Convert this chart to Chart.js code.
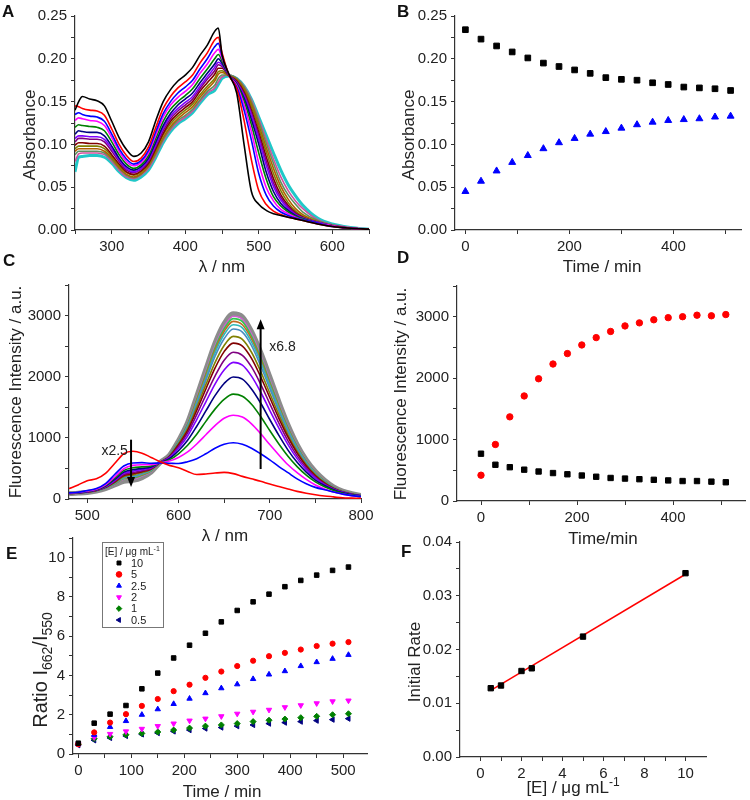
<!DOCTYPE html>
<html>
<head>
<meta charset="utf-8">
<script src="https://cdn.jsdelivr.net/npm/chart.js@4.4.0/dist/chart.umd.min.js"></script>
<style>
body{margin:0;background:#fff;width:750px;height:800px;position:relative;overflow:hidden;font-family:'Liberation Sans',Arial,sans-serif}
canvas{position:absolute}
.tag{position:absolute;font-weight:bold;font-size:17px;line-height:17px;color:#111;z-index:5}
</style>
</head>
<body>
<canvas id="cA" width="375" height="280" style="left:0;top:0"></canvas>
<canvas id="cB" width="375" height="280" style="left:375px;top:0"></canvas>
<canvas id="cC" width="380" height="285" style="left:0;top:262px"></canvas>
<canvas id="cD" width="375" height="285" style="left:375px;top:262px"></canvas>
<canvas id="cE" width="375" height="280" style="left:0;top:520px"></canvas>
<canvas id="cF" width="375" height="280" style="left:375px;top:520px"></canvas>
<div class="tag" style="left:2px;top:3px">A</div>
<div class="tag" style="left:397px;top:3px">B</div>
<div class="tag" style="left:3px;top:252px">C</div>
<div class="tag" style="left:397px;top:249px">D</div>
<div class="tag" style="left:6px;top:545px">E</div>
<div class="tag" style="left:401px;top:543px">F</div>
<script>
// ---------- A : absorption spectra (one curve per time point) ----------
const absWl = [250,255,260,270,280,290,300,310,320,330,340,350,360,370,380,390,400,410,420,430,440,445,450,460,470,480,490,500,510,520,530,540,550,560,580,600,625,650];
const absT0   = [0.140,0.150,0.156,0.153,0.151,0.145,0.127,0.108,0.094,0.086,0.090,0.103,0.128,0.150,0.164,0.174,0.181,0.190,0.204,0.216,0.232,0.236,0.205,0.181, 0.160,0.100,0.045,0.030,0.023,0.019,0.017,0.015,0.013,0.011,0.007,0.004,0.002,0.001];
const absT30  = [0.145,0.144,0.142,0.140,0.139,0.134,0.118,0.100,0.087,0.080,0.084,0.097,0.120,0.142,0.156,0.166,0.173,0.181,0.195,0.207,0.222,0.225,0.207,0.180, 0.165,0.128,0.082,0.046,0.030,0.022,0.018,0.015,0.013,0.011,0.007,0.004,0.002,0.001];
const absT60  = [0.135,0.137,0.135,0.133,0.132,0.127,0.112,0.095,0.083,0.077,0.081,0.093,0.115,0.136,0.150,0.160,0.167,0.175,0.188,0.200,0.214,0.218,0.204,0.180, 0.167,0.140,0.105,0.066,0.041,0.028,0.021,0.017,0.014,0.012,0.008,0.004,0.002,0.001];
const absT90  = [0.128,0.131,0.130,0.128,0.127,0.122,0.108,0.092,0.080,0.075,0.079,0.090,0.111,0.132,0.146,0.155,0.162,0.170,0.183,0.194,0.207,0.211,0.201,0.180, 0.169,0.146,0.115,0.078,0.050,0.034,0.024,0.019,0.015,0.012,0.008,0.005,0.002,0.001];
const absT120 = [0.120,0.123,0.122,0.121,0.120,0.116,0.103,0.088,0.077,0.072,0.076,0.087,0.107,0.127,0.141,0.150,0.157,0.165,0.177,0.188,0.200,0.205,0.198,0.180, 0.170,0.151,0.123,0.090,0.060,0.039,0.028,0.021,0.016,0.013,0.008,0.005,0.002,0.001];
const absT150 = [0.112,0.116,0.115,0.114,0.114,0.110,0.098,0.084,0.074,0.070,0.074,0.084,0.103,0.122,0.136,0.146,0.153,0.160,0.172,0.183,0.194,0.200,0.195,0.180, 0.171,0.154,0.129,0.100,0.068,0.045,0.031,0.023,0.017,0.013,0.008,0.005,0.002,0.001];
const absT180 = [0.107,0.110,0.110,0.109,0.109,0.106,0.095,0.082,0.072,0.068,0.072,0.082,0.100,0.119,0.133,0.142,0.149,0.156,0.168,0.179,0.190,0.196,0.193,0.180, 0.172,0.157,0.134,0.106,0.076,0.051,0.035,0.025,0.018,0.014,0.009,0.005,0.002,0.001];
const absT210 = [0.103,0.107,0.107,0.106,0.106,0.103,0.092,0.080,0.070,0.067,0.071,0.080,0.098,0.116,0.130,0.139,0.146,0.153,0.165,0.176,0.186,0.193,0.191,0.180, 0.173,0.159,0.137,0.110,0.081,0.055,0.038,0.027,0.019,0.014,0.009,0.005,0.002,0.001];
const absT240 = [0.099,0.102,0.102,0.101,0.101,0.098,0.088,0.077,0.068,0.065,0.069,0.078,0.095,0.113,0.127,0.136,0.143,0.150,0.162,0.172,0.182,0.189,0.189,0.180, 0.174,0.161,0.140,0.114,0.086,0.060,0.041,0.029,0.020,0.015,0.009,0.005,0.002,0.001];
const absT270 = [0.095,0.098,0.098,0.098,0.098,0.095,0.086,0.075,0.067,0.064,0.068,0.077,0.093,0.111,0.124,0.133,0.140,0.147,0.158,0.168,0.177,0.185,0.186,0.180, 0.175,0.163,0.144,0.119,0.092,0.066,0.046,0.032,0.022,0.016,0.009,0.005,0.002,0.001];
const absT330 = [0.092,0.095,0.095,0.095,0.095,0.092,0.084,0.073,0.065,0.062,0.066,0.075,0.091,0.108,0.121,0.130,0.137,0.144,0.155,0.165,0.174,0.182,0.184,0.180, 0.176,0.165,0.147,0.123,0.097,0.072,0.051,0.036,0.025,0.018,0.010,0.005,0.002,0.001];
const absT390 = [0.088,0.092,0.092,0.092,0.092,0.090,0.082,0.072,0.064,0.061,0.065,0.074,0.089,0.106,0.119,0.128,0.134,0.141,0.152,0.162,0.169,0.177,0.181,0.181, 0.177,0.167,0.150,0.127,0.102,0.078,0.056,0.041,0.030,0.021,0.011,0.006,0.002,0.001];
const absT450 = [0.080,0.089,0.090,0.090,0.090,0.088,0.080,0.070,0.062,0.060,0.064,0.072,0.087,0.104,0.117,0.126,0.132,0.139,0.150,0.160,0.166,0.173,0.179,0.181, 0.177,0.168,0.152,0.130,0.106,0.083,0.062,0.046,0.034,0.025,0.012,0.006,0.003,0.001];
const absT510 = [0.068,0.085,0.086,0.087,0.087,0.085,0.078,0.068,0.061,0.058,0.062,0.070,0.085,0.102,0.115,0.124,0.130,0.137,0.148,0.158,0.163,0.170,0.177,0.180, 0.177,0.168,0.153,0.132,0.111,0.090,0.070,0.053,0.040,0.029,0.014,0.007,0.003,0.001];
const absCurves = [absT0,absT30,absT60,absT90,absT120,absT150,absT180,absT210,absT240,absT270,absT330,absT390,absT450,absT510];
const absColors = ['#000000','#FF0000','#0000FF','#FF00FF','#008000','#000080','#8000FF','#800080','#800000','#808000','#B05F00','#5F8F5F','#D0509F','#20C8C8'];

// ---------- B : absorbance vs time ----------
const timeMin = [0,30,60,90,120,150,180,210,240,270,300,330,360,390,420,450,480,510];
const abs440 = [0.234,0.223,0.215,0.208,0.201,0.195,0.191,0.187,0.183,0.178,0.176,0.175,0.172,0.170,0.167,0.166,0.165,0.163];
const abs500 = [0.045,0.057,0.069,0.079,0.087,0.095,0.102,0.107,0.112,0.115,0.119,0.123,0.126,0.128,0.129,0.130,0.132,0.133];

// ---------- C : fluorescence spectra ----------
const flWl = [480,490,500,510,520,530,540,550,560,570,580,590,600,610,620,630,640,650,660,670,680,690,700,710,720,730,740,750,760,770,780,790,800];
const flT0   = [170,230,300,330,420,580,740,780,750,680,610, 550,510,450,400,410,425,435,415,370,330,290,245,205,165,125,95,70,50,35,20,15,10];
const flT30  = [100,110,140,170,250,400,540,590,595,585,590, 585,580,610,660,740,830,895,920,895,830,740,640,530,430,330,250,190,150,115,80,55,38];
const flT60  = [97,107,130,160,230,360,495,550,560,560,592, 620,680,770,900,1050,1200,1320,1370,1340,1230,1070,890,720,560,430,320,230,165,115,80,55,40];
const flT90  = [95,105,126,155,220,340,465,510,525,540,595, 640,740,880,1060,1270,1470,1630,1715,1680,1550,1350,1120,900,700,530,390,280,200,140,95,65,45];
const flT120 = [93,103,122,150,210,320,440,480,500,525,598, 660,790,960,1190,1440,1690,1890,1995,1960,1800,1570,1300,1040,800,600,440,310,220,150,100,70,50];
const flT150 = [92,101,119,147,202,303,420,455,480,510,600, 675,830,1030,1300,1590,1880,2110,2235,2190,2010,1750,1450,1160,890,660,480,340,235,160,110,75,52];
const flT180 = [91,100,117,144,196,290,402,435,462,500,600, 685,860,1080,1380,1700,2010,2270,2400,2350,2160,1880,1560,1240,950,705,510,360,245,165,112,77,53];
const flT210 = [90,99,115,141,190,278,385,415,448,492,600, 695,885,1120,1450,1800,2140,2410,2550,2500,2300,2000,1660,1320,1010,750,540,380,260,172,115,78,53];
const flT240 = [90,99,114,139,186,268,368,395,432,485,600, 700,905,1150,1500,1870,2230,2510,2660,2610,2400,2090,1730,1380,1050,780,560,395,270,178,118,80,54];
const flT270 = [89,98,113,138,183,260,355,375,418,478,600, 705,920,1180,1550,1940,2330,2620,2780,2730,2510,2180,1810,1440,1100,815,585,410,280,184,121,82,55];
const flT300 = [89,98,112,137,180,254,345,360,408,470,600, 708,930,1200,1580,1980,2390,2690,2850,2800,2570,2240,1860,1480,1130,835,600,420,287,188,124,83,55];
const flT330 = [89,97,111,136,178,248,338,350,398,463,600, 710,938,1215,1610,2020,2430,2740,2905,2850,2620,2280,1890,1510,1150,850,610,428,292,191,126,84,56];
const flT360 = [88,97,110,135,176,243,330,340,388,456,600, 712,945,1230,1630,2050,2470,2780,2950,2900,2660,2320,1920,1530,1170,865,620,434,296,194,127,85,56];
const flT390 = [88,96,109,134,174,238,322,325,375,448,600, 714,950,1240,1650,2080,2500,2820,2990,2940,2700,2350,1950,1550,1185,875,627,440,300,196,128,86,57];
const flT510 = [88,96,108,132,170,230,290,305,350,440,600, 715,955,1250,1680,2120,2550,2870,3030,2980,2740,2400,2000,1590,1210,890,640,450,310,200,130,88,58];
const flCurves = [flT0,flT30,flT60,flT90,flT120,flT150,flT180,flT210,flT240,flT270,flT300,flT330,flT360,flT390,flT510];
const flColors = ['#FF0000','#0000FF','#FF00FF','#008000','#000080','#8000FF','#800080','#800000','#808000','#4A8CC0','#30B8B8','#C06A20','#30C850','#D060D0','#8C8C8C'];

// ---------- D : fluorescence vs time ----------
const fl662 = [420,920,1370,1710,1990,2230,2400,2540,2660,2760,2850,2900,2950,2985,3000,3025,3015,3035];
const fl550 = [770,590,550,510,480,455,435,415,395,375,365,355,345,335,325,325,315,305];

// ---------- E : ratio vs time for each enzyme conc. ----------
const enzLabels = ['10','5','2.5','2','1','0.5'];
const ratio10  = [0.55,1.57,2.03,2.47,3.32,4.12,4.89,5.54,6.15,6.73,7.31,7.75,8.14,8.52,8.84,9.11,9.35,9.52];
const ratio5   = [0.50,1.10,1.60,2.03,2.45,2.80,3.20,3.53,3.88,4.20,4.48,4.75,4.98,5.15,5.32,5.50,5.62,5.70];
const ratio2_5 = [0.50,0.98,1.38,1.68,2.00,2.28,2.55,2.82,3.10,3.35,3.55,3.82,4.05,4.22,4.48,4.68,4.85,5.05];
const ratio2   = [0.50,0.85,1.02,1.15,1.28,1.42,1.55,1.70,1.80,1.92,2.05,2.15,2.25,2.38,2.48,2.58,2.68,2.72];
const ratio1   = [0.50,0.78,0.88,0.98,1.05,1.12,1.22,1.32,1.42,1.48,1.55,1.65,1.72,1.78,1.85,1.92,2.00,2.05];
const ratio0_5 = [0.45,0.70,0.82,0.92,1.00,1.07,1.15,1.22,1.30,1.35,1.42,1.48,1.55,1.60,1.65,1.70,1.75,1.80];

// ---------- F : initial rate vs [E] ----------
const enzConc = [0.5,1,2,2.5,5,10];
const initRate = [0.0128,0.0133,0.0160,0.0165,0.0224,0.0342];
const fitX = [0.5,10];
const fitY = [0.0124,0.0340];

// ---------- tick lists ----------
const tA_x = [250,300,350,400,450,500,550,600,650], tA_xMaj = [300,400,500,600];
const tAbs_y = [0,0.025,0.05,0.075,0.1,0.125,0.15,0.175,0.2,0.225,0.25], tAbs_yMaj = [0,0.05,0.1,0.15,0.2,0.25];
const tTime_x = [0,100,200,300,400,500], tTime_xMaj = [0,200,400];
const tC_x = [500,550,600,650,700,750,800], tC_xMaj = [500,600,700,800];
const tFl_y = [0,500,1000,1500,2000,2500,3000,3500], tFl_yMaj = [0,1000,2000,3000];
const tE_x = [0,50,100,150,200,250,300,350,400,450,500], tE_xMaj = [0,100,200,300,400,500];
const tE_y = [0,1,2,3,4,5,6,7,8,9,10,11], tE_yMaj = [0,2,4,6,8,10];
const tF_x = [0,1,2,3,4,5,6,7,8,9,10], tF_xMaj = [0,2,4,6,8,10];
const tF_y = [0,0.005,0.01,0.015,0.02,0.025,0.03,0.035,0.04], tF_yMaj = [0,0.01,0.02,0.03,0.04];

const FONT = "'Liberation Sans', Arial, sans-serif";
const INK = '#222';
const ROT = -Math.PI / 2;

function pts(xs, ys) { return xs.map(function(x, i){ return {x: x, y: ys[i]}; }); }
function near(v, list) { return list.some(function(m){ return Math.abs(m - v) < 1e-9; }); }

function axis(min, max, all, major, fmt, size) {
    return {
        type: 'linear', min: min, max: max,
        border: {display: true, color: '#333', width: 1.2},
        grid: {drawOnChartArea: false, drawTicks: true, tickLength: 4, color: '#333', lineWidth: 1},
        ticks: {autoSkip: false, maxRotation: 0, color: INK, padding: 4, font: {family: FONT, size: 15},
            callback: function(v){ return near(v, major) ? fmt(v) : ''; }},
        afterBuildTicks: function(s){ s.ticks = all.map(function(v){ return {value: v}; }); },
        afterFit: function(s){ if (s.isHorizontal()) s.height = size; else s.width = size; }
    };
}

function base(top, right, xs, ys) {
    return {
        responsive: false, animation: false, events: [],
        layout: {padding: {left: 0, top: top, right: right, bottom: 0}},
        plugins: {legend: {display: false}, tooltip: {enabled: false}},
        scales: {x: xs, y: ys}
    };
}

function drawRich(ctx, it) {
    const size = it.size || 17;
    const parts = it.parts || [{t: it.text}];
    const small = Math.round(size * (it.subScale || 0.68));
    ctx.save();
    ctx.translate(it.x, it.y);
    if (it.rot) ctx.rotate(it.rot);
    ctx.fillStyle = INK;
    ctx.textBaseline = 'alphabetic';
    let w = 0;
    parts.forEach(function(p){
        ctx.font = ((p.sub || p.sup) ? small : size) + 'px ' + FONT;
        w += ctx.measureText(p.t).width;
    });
    let cx = it.align === 'left' ? 0 : -w / 2;
    parts.forEach(function(p){
        ctx.font = ((p.sub || p.sup) ? small : size) + 'px ' + FONT;
        const dy = p.sub ? size * 0.25 : (p.sup ? -size * 0.38 : 0);
        ctx.fillText(p.t, cx, size * 0.35 + dy);
        cx += ctx.measureText(p.t).width;
    });
    ctx.restore();
}

function textLayer(items, extra) {
    return {
        id: 'textLayer',
        afterDraw: function(chart) {
            items.forEach(function(it){ drawRich(chart.ctx, it); });
            if (extra) extra(chart);
        }
    };
}

function arrow(ctx, x1, y1, x2, y2) {
    const dir = y2 < y1 ? -1 : 1;
    ctx.save();
    ctx.strokeStyle = '#000'; ctx.fillStyle = '#000'; ctx.lineWidth = 2;
    ctx.beginPath(); ctx.moveTo(x1, y1); ctx.lineTo(x2, y2 - dir * 8); ctx.stroke();
    ctx.beginPath(); ctx.moveTo(x2, y2); ctx.lineTo(x2 - 4, y2 - dir * 10); ctx.lineTo(x2 + 4, y2 - dir * 10); ctx.closePath(); ctx.fill();
    ctx.restore();
}

function lineSet(xs, ys, color, width) {
    return {data: pts(xs, ys), borderColor: color, backgroundColor: color, borderWidth: width,
        pointRadius: 0, fill: false, cubicInterpolationMode: 'monotone'};
}
function markSet(xs, ys, color, style, r, rot) {
    return {data: pts(xs, ys), showLine: false, pointStyle: style, pointRadius: r, pointRotation: rot || 0,
        backgroundColor: color, borderColor: color, pointBorderWidth: 1};
}

const fmt2 = function(v){ return v.toFixed(2); };
const fmt0 = function(v){ return String(Math.round(v)); };

// A
new Chart(document.getElementById('cA'), {
    type: 'line',
    data: {datasets: absCurves.map(function(c, i){
        return lineSet(absWl, c, absColors[i], i === absCurves.length - 1 ? 3 : 1.6);
    })},
    options: base(16, 6, axis(250, 650, tA_x, tA_xMaj, fmt0, 50), axis(0, 0.25, tAbs_y, tAbs_yMaj, fmt2, 75)),
    plugins: [textLayer([
        {x: 29, y: 135, rot: ROT, text: 'Absorbance'},
        {x: 222, y: 266, text: 'λ / nm'}
    ])]
});

// B
new Chart(document.getElementById('cB'), {
    type: 'scatter',
    data: {datasets: [
        markSet(timeMin, abs440, '#000000', 'rect', 4),
        markSet(timeMin, abs500, '#0000FF', 'triangle', 4)
    ]},
    options: base(16, 9, axis(-20, 530, tTime_x, tTime_xMaj, fmt0, 50), axis(0, 0.25, tAbs_y, tAbs_yMaj, fmt2, 80)),
    plugins: [textLayer([
        {x: 33, y: 135, rot: ROT, text: 'Absorbance'},
        {x: 227, y: 266, text: 'Time / min'}
    ])]
});

// C
new Chart(document.getElementById('cC'), {
    type: 'line',
    data: {datasets: flCurves.map(function(c, i){
        return lineSet(flWl, c, flColors[i], i === flCurves.length - 1 ? 5 : 1.6);
    })},
    options: base(23, 19, axis(480, 800, tC_x, tC_xMaj, fmt0, 48), axis(0, 3500, tFl_y, tFl_yMaj, fmt0, 69)),
    plugins: [textLayer([
        {x: 15, y: 130, rot: ROT, text: 'Fluorescence Intensity / a.u.'},
        {x: 225, y: 273, text: 'λ / nm'}
    ], function(chart){
        const xs = chart.scales.x, ys = chart.scales.y, ctx = chart.ctx;
        arrow(ctx, xs.getPixelForValue(548), ys.getPixelForValue(970), xs.getPixelForValue(548), ys.getPixelForValue(195));
        arrow(ctx, xs.getPixelForValue(690), ys.getPixelForValue(490), xs.getPixelForValue(690), ys.getPixelForValue(2940));
        drawRich(ctx, {x: xs.getPixelForValue(530), y: ys.getPixelForValue(792), size: 14, text: 'x2.5'});
        drawRich(ctx, {x: xs.getPixelForValue(714), y: ys.getPixelForValue(2497), size: 14, text: 'x6.8'});
    })]
});

// D
new Chart(document.getElementById('cD'), {
    type: 'scatter',
    data: {datasets: [
        markSet(timeMin, fl550, '#000000', 'rect', 3.8),
        markSet(timeMin, fl662, '#FF0000', 'circle', 3.2)
    ]},
    options: base(24, 2, axis(-50, 550, tTime_x, tTime_xMaj, fmt0, 46), axis(0, 3500, tFl_y, tFl_yMaj, fmt0, 82)),
    plugins: [textLayer([
        {x: 25, y: 132, rot: ROT, text: 'Fluorescence Intensity / a.u.'},
        {x: 228, y: 276, text: 'Time/min'}
    ])]
});

// E
const ratioSets = [
    {d: ratio10, color: '#000000', style: 'rect', r: 3.2, rot: 0},
    {d: ratio5, color: '#FF0000', style: 'circle', r: 2.6, rot: 0},
    {d: ratio2_5, color: '#0000FF', style: 'triangle', r: 3.1, rot: 0},
    {d: ratio2, color: '#FF00FF', style: 'triangle', r: 3.1, rot: 180},
    {d: ratio1, color: '#008000', style: 'rectRot', r: 3, rot: 0},
    {d: ratio0_5, color: '#000080', style: 'triangle', r: 3.1, rot: 270}
];
new Chart(document.getElementById('cE'), {
    type: 'scatter',
    data: {datasets: ratioSets.map(function(s){ return markSet(timeMin, s.d, s.color, s.style, s.r, s.rot); })},
    options: base(18, 8, axis(-10, 545, tE_x, tE_xMaj, fmt0, 46), axis(0, 11, tE_y, tE_yMaj, fmt0, 73)),
    plugins: [textLayer([
        {x: 40, y: 150, rot: ROT, size: 20, subScale: 0.7, parts: [{t: 'Ratio I'}, {t: '662', sub: true}, {t: '/I'}, {t: '550', sub: true}]},
        {x: 222, y: 271, text: 'Time / min'}
    ], function(chart){
        const ctx = chart.ctx;
        ctx.save();
        ctx.strokeStyle = '#777'; ctx.lineWidth = 1;
        ctx.strokeRect(102.5, 22.5, 61, 85);
        ctx.restore();
        drawRich(ctx, {x: 105, y: 31, size: 10, align: 'left', parts: [{t: '[E] / μg mL'}, {t: '-1', sup: true}]});
        ratioSets.forEach(function(s, i){
            const y = 43 + i * 11.4;
            ctx.save();
            ctx.fillStyle = s.color; ctx.strokeStyle = s.color;
            Chart.helpers.drawPoint(ctx, {pointStyle: s.style, rotation: s.rot, radius: 2.8, borderWidth: 1}, 119, y);
            ctx.restore();
            drawRich(ctx, {x: 131, y: y, size: 11, align: 'left', text: enzLabels[i]});
        });
    })]
});

// F
new Chart(document.getElementById('cF'), {
    type: 'scatter',
    data: {datasets: [
        markSet(enzConc, initRate, '#000000', 'rect', 3.8),
        {data: pts(fitX, fitY), showLine: true, borderColor: '#FF0000', borderWidth: 1.5, pointRadius: 0, fill: false}
    ]},
    options: base(22, 44, axis(-1, 11, tF_x, tF_xMaj, fmt0, 43), axis(0, 0.04, tF_y, tF_yMaj, fmt2, 85)),
    plugins: [textLayer([
        {x: 39, y: 142, rot: ROT, text: 'Initial Rate'},
        {x: 198, y: 267, parts: [{t: '[E] / μg mL'}, {t: '-1', sup: true}]}
    ])]
});
</script>
</body>
</html>
